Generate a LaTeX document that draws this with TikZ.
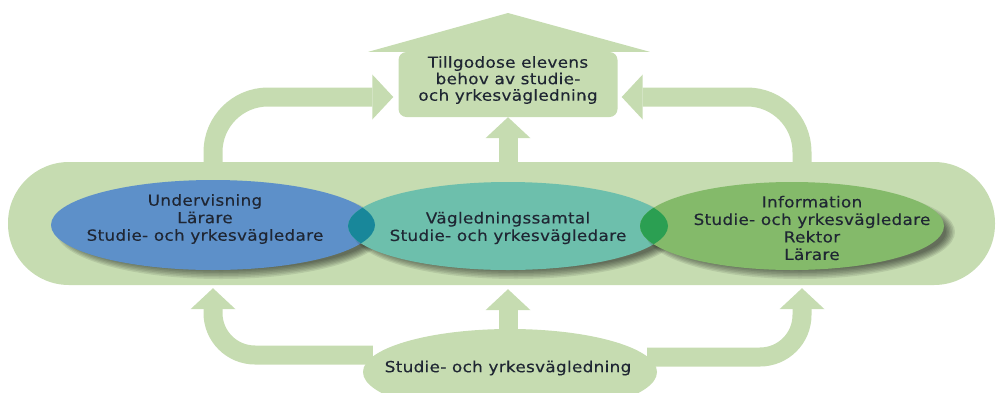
\documentclass[tikz,border=0pt]{standalone}
\usepackage{fontspec}
\setmainfont[LetterSpace=2,FakeStretch=1.1,FakeBold=0.25]{DejaVu Sans}
\usetikzlibrary{shapes.geometric,arrows.meta}
\definecolor{lgreen}{HTML}{C6DCB1}
\definecolor{blueell}{HTML}{5D90C9}
\definecolor{tealell}{HTML}{6DBFAC}
\definecolor{greenell}{HTML}{84BA6A}
\definecolor{ovlA}{HTML}{18879A}
\definecolor{ovlB}{HTML}{2B9F52}
\definecolor{ink}{HTML}{1F2633}
\newcommand\softshadow[3]{%
  \foreach \k in {0,...,6}{%
    \fill[black,opacity=0.09] ([xshift=8pt,yshift=-6pt]#1) ellipse [x radius={#2+3-\k*1.5}, y radius={#3+3-\k*1.5}];}}
\begin{document}
\begin{tikzpicture}[x=1pt,y=-1pt,
  txt/.style={font=\fontsize{15.3}{17.5}\selectfont, text=ink, align=center, inner sep=0pt},
  fat/.style={draw=lgreen, line width=19pt, rounded corners=#1,
    -{Triangle[width=45pt 0 0,length=21pt 0 0,line width=0pt 0 0]}},
  fat/.default=55pt,
  ell/.style={ellipse, inner sep=0pt, draw=none},
]
\useasboundingbox (0,0) rectangle (997,392);
\begin{scope}
\clip (0,0) rectangle (997,392);
% background band
\node[fill=lgreen, rounded corners=61pt, minimum width=987pt, minimum height=123pt, inner sep=0pt] (band) at (501.5,223.5) {};
% goal house
\node[fill=lgreen, rounded corners=8pt, minimum width=219pt, minimum height=65pt, inner sep=0pt] (goal) at (508,84.5) {};
\fill[lgreen] ([xshift=-30pt]goal.north west) -- (508,13) -- ([xshift=32pt]goal.north east) -- cycle;
% ellipses
\node[ell, fill=lgreen, minimum width=294pt, minimum height=86pt] (base) at (510,372) {};
\softshadow{213,225}{162}{45}
\node[ell, fill=blueell, minimum width=324pt, minimum height=90pt] (teach) at (213,225) {};
\softshadow{508,226}{160}{44}
\node[ell, fill=tealell, minimum width=320pt, minimum height=88pt] (talk) at (508,226) {};
\softshadow{792,226}{152}{44}
\node[ell, fill=greenell, minimum width=304pt, minimum height=88pt] (info) at (792,226) {};
\begin{scope}
  \clip (teach.center) ellipse [x radius=162pt, y radius=45pt];
  \fill[ovlA] (talk.center) ellipse [x radius=160pt, y radius=44pt];
\end{scope}
\begin{scope}
  \clip (talk.center) ellipse [x radius=160pt, y radius=44pt];
  \fill[ovlB] (info.center) ellipse [x radius=152pt, y radius=44pt];
\end{scope}
% arrows upward to goal
\draw[fat] ([yshift=-8pt]teach.center |- band.north) |- ([xshift=-5pt,yshift=-12.5pt]goal.west);
\draw[fat] ([xshift=10pt,yshift=-8pt]info.center |- band.north) |- ([xshift=4pt,yshift=-12.5pt]goal.east);
\draw[fat] ([yshift=-6pt]talk.center |- band.north) -- (goal.south);
% arrows from base
\draw[fat=42pt] ([xshift=10pt,yshift=17pt]base.west) -| ([yshift=-3pt]teach.center |- band.south);
\draw[fat=42pt] ([xshift=-10pt,yshift=15pt]base.east) -| ([xshift=10pt,yshift=-3pt]info.center |- band.south);
\draw[fat] ([yshift=-8pt]base.north -| talk.center) -- ([yshift=-4pt]talk.center |- band.south);
\end{scope}
% texts
\node[txt, font=\fontsize{15.3}{16.5}\selectfont] at (508,80) {Tillgodose elevens\\behov av studie-\\och yrkesvägledning};
\node[txt] at (205,219) {Undervisning\\Lärare\\Studie- och yrkesvägledare};
\node[txt] at (508,228) {Vägledningssamtal\\Studie- och yrkesvägledare};
\node[txt] at (812,228) {Information\\Studie- och yrkesvägledare\\Rektor\\Lärare};
\node[txt] at (508,368) {Studie- och yrkesvägledning};
\end{tikzpicture}
\end{document}
